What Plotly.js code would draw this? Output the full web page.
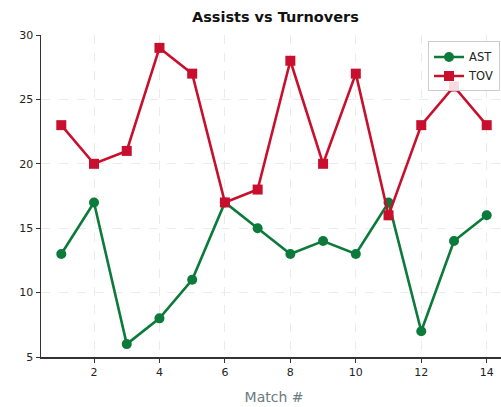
<!DOCTYPE html>
<html><head><meta charset="utf-8">
<script src="https://cdn.plot.ly/plotly-3.0.1.min.js"></script>
<style>html,body{margin:0;padding:0;overflow:hidden;background:#fff}#c{width:510px;height:407px}</style>
</head><body><div id="c"></div>
<script>
const matches = [1,2,3,4,5,6,7,8,9,10,11,12,13,14];
const ast = [13,17,6,8,11,17,15,13,14,13,17,7,14,16];
const tov = [23,20,21,29,27,17,18,28,20,27,16,23,26,23];
const green = '#0b7a3a', red = '#c8102e';
const traces = [
  {x: matches, y: ast, name: 'AST', mode: 'lines+markers', line: {color: green, width: 2.6}, marker: {symbol: 'circle', size: 10, color: green}},
  {x: matches, y: tov, name: 'TOV', mode: 'lines+markers', line: {color: red, width: 2.6}, marker: {symbol: 'square', size: 10, color: red}}
];
const layout = {
  width: 510, height: 407,
  margin: {l: 41, r: 3, t: 35, b: 50},
  paper_bgcolor: '#fff', plot_bgcolor: '#fff',
  title: {text: '<b>Assists vs Turnovers</b>', x: 0.54, xanchor: 'center', y: 0.958, yanchor: 'middle', font: {family: 'DejaVu Sans', size: 14.5, color: '#111'}},
  font: {family: 'DejaVu Sans', size: 11, color: '#222'},
  xaxis: {range: [0.38, 14.62], tickvals: [2,4,6,8,10,12,14], ticks: 'outside', ticklen: 4, tickcolor: '#333',
    showgrid: true, gridcolor: '#ebebeb', griddash: 'dash', gridwidth: 1, zeroline: false,
    showline: true, linecolor: '#333', linewidth: 1.5, mirror: false,
    title: {text: 'Match #', font: {family: 'DejaVu Sans', size: 14, color: '#6b7b80'}, standoff: 14}},
  yaxis: {range: [5, 30], tickvals: [5,10,15,20,25,30], ticks: 'outside', ticklen: 4, tickcolor: '#333',
    showgrid: true, gridcolor: '#ebebeb', griddash: 'dash', gridwidth: 1, zeroline: false,
    showline: true, linecolor: '#333', linewidth: 1.5, mirror: true},
  legend: {x: 0.985, xanchor: 'right', y: 0.98, yanchor: 'top', bgcolor: 'rgba(255,255,255,0.85)', bordercolor: '#ccc', borderwidth: 1,
    font: {family: 'DejaVu Sans', size: 11.5, color: '#222'}, itemwidth: 30, tracegroupgap: 0},
  showlegend: true
};
Plotly.newPlot('c', traces, layout, {displayModeBar: false, staticPlot: true});
</script></body></html>
